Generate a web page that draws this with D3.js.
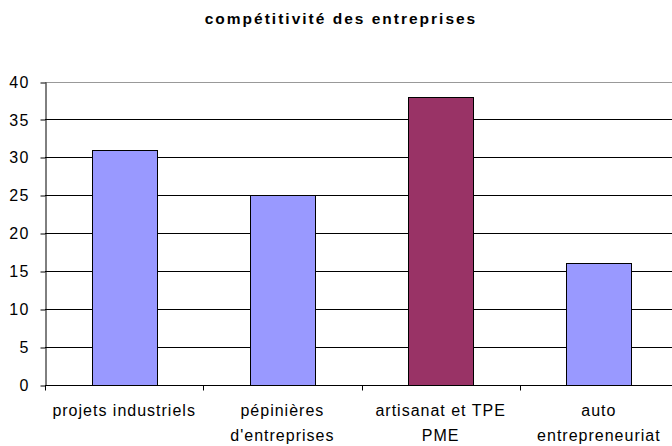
<!DOCTYPE html>
<html><head><meta charset="utf-8">
<script src="https://cdn.jsdelivr.net/npm/d3@7"></script>
<style>body{margin:0;background:#fff}svg{display:block}text{font-family:"Liberation Sans",Arial,sans-serif;fill:#000}</style>
</head><body>
<script>
const title = "compétitivité des entreprises";
const categories = [["projets industriels"], ["pépinières", "d'entreprises"], ["artisanat et TPE", "PME"], ["auto", "entrepreneuriat"]];
const values = [31, 25, 38, 16];
const colors = ["#9999FF", "#9999FF", "#993366", "#9999FF"];
const yTicks = [0, 5, 10, 15, 20, 25, 30, 35, 40];

const W = 672, H = 446;
const m = {left: 45, right: 678, top: 81.5, bottom: 384.5};
const svg = d3.select("body").append("svg").attr("width", W).attr("height", H);

const x = d3.scaleBand().domain(d3.range(values.length)).range([m.left, m.right]).padding(0);
const y = d3.scaleLinear().domain([0, 40]).range([m.bottom, m.top]);

svg.append("text").attr("x", 341).attr("y", 24).attr("text-anchor", "middle")
  .style("font-weight", "bold").style("font-size", "15.5px").style("letter-spacing", "2px").text(title);

// gridlines
svg.append("g").selectAll("line").data(yTicks.filter(d => d > 0)).join("line")
  .attr("x1", m.left).attr("x2", W).attr("y1", d => Math.round(y(d)) + 0.5).attr("y2", d => Math.round(y(d)) + 0.5)
  .attr("stroke", d => d === 40 ? "#999" : "#000").attr("stroke-width", 1);

// bars
const bw = x.bandwidth() * 0.41;
svg.append("g").selectAll("rect").data(values).join("rect")
  .attr("x", (d, i) => Math.round(x(i) + x.bandwidth() / 2 - bw / 2) + 0.5)
  .attr("y", d => Math.round(y(d)) + 0.5)
  .attr("width", Math.round(bw))
  .attr("height", d => Math.round(y(0)) - Math.round(y(d)))
  .attr("fill", (d, i) => colors[i]).attr("stroke", "#000").attr("stroke-width", 1);

// y axis
const ya = svg.append("g").attr("transform", `translate(${m.left + 0.5},0.5)`)
  .call(d3.axisLeft(y).tickValues(yTicks).tickSize(5).tickPadding(11).tickSizeOuter(0));
ya.select(".domain").attr("stroke", "#000");
ya.selectAll("line").attr("stroke", "#000").attr("transform", d => `translate(0,${Math.round(y(d)) - y(d)})`);
ya.selectAll("text").style("font-size", "16px").style("letter-spacing", "1.2px")
  .style("font-family", "Liberation Sans, Arial, sans-serif").attr("fill", "#000");

// x axis
const xa = svg.append("g").attr("transform", `translate(0,${Math.round(y(0)) + 0.5})`);
xa.append("line").attr("x1", m.left).attr("x2", W).attr("stroke", "#000");
xa.selectAll(".tk").data(d3.range(values.length + 1)).join("line").attr("class", "tk")
  .attr("x1", i => Math.round(m.left + i * x.step()) + 0.5).attr("x2", i => Math.round(m.left + i * x.step()) + 0.5)
  .attr("y1", 0).attr("y2", 5).attr("stroke", "#000");

const lbl = svg.append("g").selectAll("text").data(categories).join("text")
  .attr("text-anchor", "middle").style("font-size", "16px").style("letter-spacing", "1px")
  .attr("x", (d, i) => x(i) + x.bandwidth() / 2).attr("y", 416);
lbl.selectAll("tspan").data(d => d).join("tspan")
  .attr("x", function() { return this.parentNode.getAttribute("x"); })
  .attr("dy", (d, j) => j === 0 ? 0 : 25).text(d => d);
</script>
</body></html>
